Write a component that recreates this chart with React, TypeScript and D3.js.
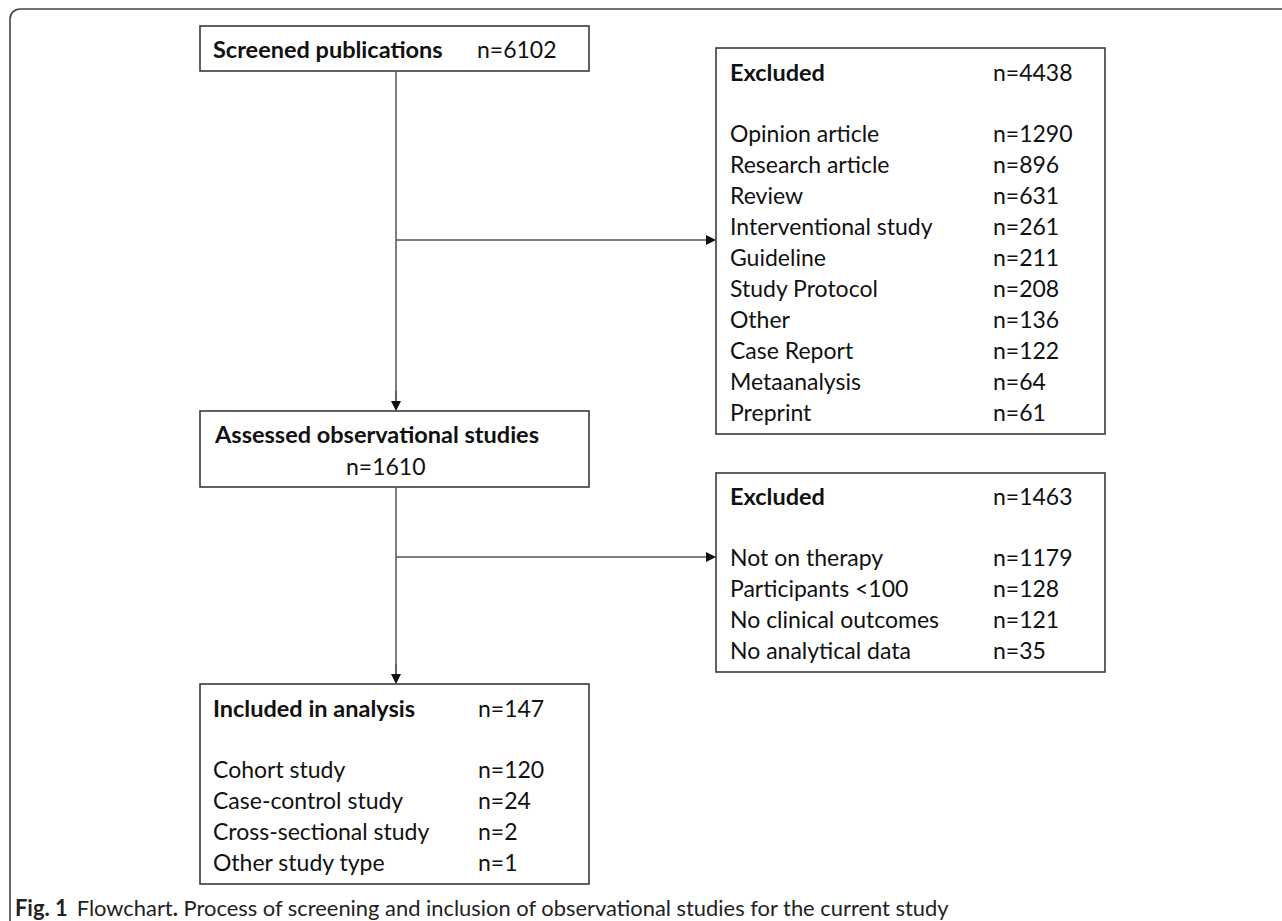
import React from "react";
import * as d3 from "d3";

const screenedLabel = "Screened publications";
const screenedN = 6102;

const excludedScreenN = 4438;
const excludedScreenCats = [
  "Opinion article",
  "Research article",
  "Review",
  "Interventional study",
  "Guideline",
  "Study Protocol",
  "Other",
  "Case Report",
  "Metaanalysis",
  "Preprint",
];
const excludedScreenVals = [1290, 896, 631, 261, 211, 208, 136, 122, 64, 61];

const assessedLabel = "Assessed observational studies";
const assessedN = 1610;

const excludedAssessN = 1463;
const excludedAssessCats = [
  "Not on therapy",
  "Participants <100",
  "No clinical outcomes",
  "No analytical data",
];
const excludedAssessVals = [1179, 128, 121, 35];

const includedN = 147;
const includedCats = [
  "Cohort study",
  "Case-control study",
  "Cross-sectional study",
  "Other study type",
];
const includedVals = [120, 24, 2, 1];

const W = 1282;
const H = 921;
const FONT = "Lato, 'Open Sans', sans-serif";
const FS = 23;
const ROW = 31;
const STROKE = "#3a3a3a";

function Rows({ cats, vals, x0, xn, y0 }: { cats: string[]; vals: number[]; x0: number; xn: number; y0: number }) {
  const y = d3.scaleLinear().domain([0, 1]).range([y0, y0 + ROW]);
  return (
    <g>
      {cats.map((c, i) => (
        <g key={c}>
          <text x={x0} y={y(i)} dominantBaseline="central">{c}</text>
          <text x={xn} y={y(i)} dominantBaseline="central">{`n=${vals[i]}`}</text>
        </g>
      ))}
    </g>
  );
}

function Arrow({ x1, y1, x2, y2 }: { x1: number; y1: number; x2: number; y2: number }) {
  const ang = Math.atan2(y2 - y1, x2 - x1);
  const L = 10, hw = 5;
  const bx = x2 - L * Math.cos(ang), by = y2 - L * Math.sin(ang);
  const px = -Math.sin(ang) * hw, py = Math.cos(ang) * hw;
  const tri = d3.path();
  tri.moveTo(x2, y2);
  tri.lineTo(bx + px, by + py);
  tri.lineTo(bx - px, by - py);
  tri.closePath();
  return (
    <g>
      <line x1={x1} y1={y1} x2={bx} y2={by} stroke="#555" strokeWidth={1.5} />
      <path d={tri.toString()} fill="#111" />
    </g>
  );
}

export default function App() {
  const frame = d3.path();
  const r = 10;
  frame.moveTo(10, H + 5);
  frame.lineTo(10, 9 + r);
  frame.arcTo(10, 9, 10 + r, 9, r);
  frame.lineTo(W + 5, 9);

  const cx = 396;
  const b1 = { x: 200, y: 26, w: 389, h: 45 };
  const e1 = { x: 716, y: 48, w: 389, h: 386 };
  const b2 = { x: 200, y: 411, w: 389, h: 76 };
  const e2 = { x: 716, y: 473, w: 389, h: 199 };
  const b3 = { x: 200, y: 684, w: 389, h: 200 };

  return (
    <svg
      width={W}
      height={H}
      viewBox={`0 0 ${W} ${H}`}
      style={{ position: "absolute", left: 0, top: 0, background: "#fff" }}
      fontFamily={FONT}
      fontSize={FS}
      fill="#111"
    >
      <rect x={0} y={0} width={W} height={H} fill="#fff" />
      <path d={frame.toString()} fill="none" stroke="#444" strokeWidth={1.6} />

      {[b1, e1, b2, e2, b3].map((b, i) => (
        <rect key={i} x={b.x} y={b.y} width={b.w} height={b.h} fill="#fff" stroke={STROKE} strokeWidth={1.6} />
      ))}

      {/* connectors */}
      <line x1={cx} y1={b1.y + b1.h} x2={cx} y2={b2.y - 10} stroke="#555" strokeWidth={1.5} />
      <Arrow x1={cx} y1={b2.y - 20} x2={cx} y2={b2.y} />
      <Arrow x1={cx} y1={240} x2={e1.x} y2={240} />
      <line x1={cx} y1={b2.y + b2.h} x2={cx} y2={b3.y - 10} stroke="#555" strokeWidth={1.5} />
      <Arrow x1={cx} y1={b3.y - 20} x2={cx} y2={b3.y} />
      <Arrow x1={cx} y1={557} x2={e2.x} y2={557} />

      {/* box 1 */}
      <text x={213} y={49} dominantBaseline="central" fontWeight={700} fontSize={23.5}>{screenedLabel}</text>
      <text x={477} y={49} dominantBaseline="central">{`n=${screenedN}`}</text>

      {/* excluded 1 */}
      <text x={730} y={72} dominantBaseline="central" fontWeight={700} fontSize={23.5}>Excluded</text>
      <text x={993} y={72} dominantBaseline="central">{`n=${excludedScreenN}`}</text>
      <Rows cats={excludedScreenCats} vals={excludedScreenVals} x0={730} xn={993} y0={133} />

      {/* assessed */}
      <text x={215} y={434} dominantBaseline="central" fontWeight={700} fontSize={23.5}>{assessedLabel}</text>
      <text x={346} y={466} dominantBaseline="central">{`n=${assessedN}`}</text>

      {/* excluded 2 */}
      <text x={730} y={496} dominantBaseline="central" fontWeight={700} fontSize={23.5}>Excluded</text>
      <text x={993} y={496} dominantBaseline="central">{`n=${excludedAssessN}`}</text>
      <Rows cats={excludedAssessCats} vals={excludedAssessVals} x0={730} xn={993} y0={557} />

      {/* included */}
      <text x={213} y={708} dominantBaseline="central" fontWeight={700} fontSize={23.5}>Included in analysis</text>
      <text x={478} y={708} dominantBaseline="central">{`n=${includedN}`}</text>
      <Rows cats={includedCats} vals={includedVals} x0={213} xn={478} y0={769} />

      {/* caption */}
      <text x={15} y={907} dominantBaseline="central" fontSize={21.9} fill="#222">
        <tspan fontWeight={700}>Fig. 1</tspan>
        <tspan dx={9}>Flowchart</tspan>
        <tspan fontWeight={700}>.</tspan>
        <tspan> Process of screening and inclusion of observational studies for the current study</tspan>
      </text>
    </svg>
  );
}
